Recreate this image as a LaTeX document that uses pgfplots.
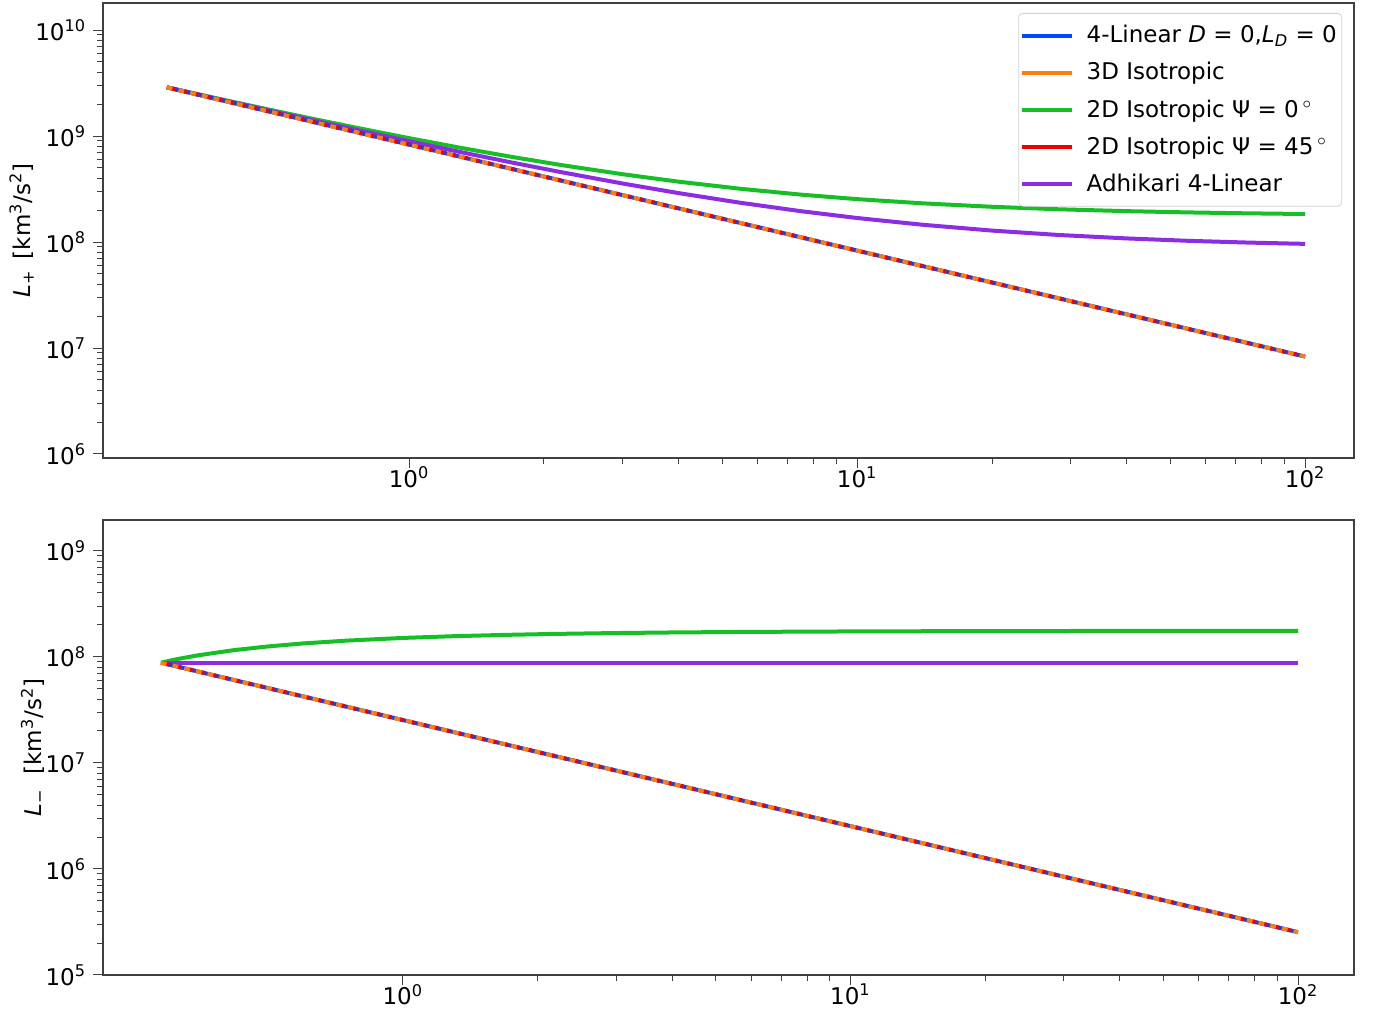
\documentclass[border=0pt]{standalone}
\usepackage{fontspec}
\setmainfont{DejaVu Sans}
\usepackage{pgfplots}
\pgfplotsset{compat=1.18}
\definecolor{cblue}{RGB}{0,72,255}
\definecolor{corange}{RGB}{255,125,10}
\definecolor{cgreen}{RGB}{24,190,40}
\definecolor{cred}{RGB}{240,0,0}
\definecolor{cpurple}{RGB}{140,45,228}
\tikzset{thk/.style={line width=2pt}}
\pgfplotsset{legend image code/.code={\draw[#1] (0pt,0pt) -- (25pt,0pt);}}
\begin{document}
\begin{tikzpicture}[x=1pt,y=1pt]
\useasboundingbox (0,0) rectangle (687,505.5);
% ---------- top panel ----------
\begin{loglogaxis}[scale only axis,
  width=625.5pt, height=227.5pt,
  at={(51.5pt,276.5pt)}, anchor=south west,
  tick align=outside, xtick pos=bottom, ytick pos=left,
  axis line style={black!75, line width=0.6pt},
  major tick length=5pt, minor tick length=3pt,
  every tick/.style={black!75, line width=0.5pt},
  tick label style={font=\fontsize{11.5}{13}\selectfont},
  xticklabel style={yshift=4pt},
  xtick={1,10,100},
  xticklabels={10\textsuperscript{0},10\textsuperscript{1},10\textsuperscript{2}},
  xmin=0.2075, xmax=128.5, ymin=9.17e5, ymax=1.8e10,
  ytick={1e6,1e7,1e8,1e9,1e10},
  yticklabels={10\textsuperscript{6},10\textsuperscript{7},10\textsuperscript{8},10\textsuperscript{9},10\textsuperscript{10}},
  ylabel={\textit{L}\textsubscript{+}\, [km\textsuperscript{3}/s\textsuperscript{2}]},
  every axis y label/.style={at={(axis description cs:-0.065,0.5)},rotate=90,anchor=center,font=\fontsize{11.5}{13}\selectfont},
  legend style={at={(0.9905,0.978)}, anchor=north east, draw=black!18, rounded corners=2pt,
    font=\fontsize{11.5}{13}\selectfont, row sep=4.3pt, inner xsep=0.5pt, inner ysep=4pt,
    cells={anchor=west}},
]
\addlegendimage{cblue,thk}
\addlegendentry{\kern4.5pt 4-Linear \textit{D} = 0,\textit{L}\textsubscript{\textit{D}} = 0}
\addlegendimage{corange,thk}
\addlegendentry{\kern4.5pt 3D Isotropic}
\addlegendimage{cgreen,thk}
\addlegendentry{\kern4.5pt 2D Isotropic Ψ = 0\,\textsuperscript{$\circ$}}
\addlegendimage{cred,thk}
\addlegendentry{\kern4.5pt 2D Isotropic Ψ = 45\,\textsuperscript{$\circ$}}
\addlegendimage{cpurple,thk}
\addlegendentry{\kern4.5pt Adhikari 4-Linear}
% green
\addplot[cgreen,thk,forget plot] coordinates {
(0.288,2.882e9)(0.35,2.403e9)(0.42,2.031e9)(0.5,1.735e9)(0.6,1.475e9)(0.75,1.215e9)
(1,9.553e8)(1.3,7.755e8)(1.7,6.344e8)(2.2,5.302e8)(3,4.358e8)(4,3.708e8)(5.5,3.177e8)
(7.5,2.799e8)(10,2.539e8)(14,2.317e8)(20,2.150e8)(28,2.038e8)(40,1.955e8)(55,1.902e8)
(75,1.864e8)(100,1.838e8)};
% purple
\addplot[cpurple,thk,forget plot] coordinates {
(0.288,2.882e9)(0.35,2.387e9)(0.42,2.004e9)(0.5,1.697e9)(0.6,1.429e9)(0.75,1.161e9)
(1,8.927e8)(1.3,7.070e8)(1.7,5.613e8)(2.2,4.538e8)(3,3.562e8)(4,2.892e8)(5.5,2.343e8)
(7.5,1.953e8)(10,1.685e8)(14,1.455e8)(20,1.282e8)(28,1.167e8)(40,1.081e8)(55,1.026e8)
(75,9.873e7)(100,9.605e7)};
% blue / orange / red (coincident)
\addplot[cblue,thk,forget plot] coordinates {(0.288,2.882e9)(1,8.3e8)(10,8.3e7)(100,8.3e6)};
\addplot[corange,thk,dash pattern=on 3pt off 3pt,forget plot] coordinates {(0.288,2.882e9)(1,8.3e8)(10,8.3e7)(100,8.3e6)};
\addplot[cred,thk,dash pattern=on 1.6pt off 4.4pt,dash phase=3pt,forget plot] coordinates {(0.288,2.882e9)(1,8.3e8)(10,8.3e7)(100,8.3e6)};
\end{loglogaxis}
% ---------- bottom panel ----------
\begin{loglogaxis}[scale only axis,
  width=625.5pt, height=227.5pt,
  at={(51.5pt,18pt)}, anchor=south west,
  tick align=outside, xtick pos=bottom, ytick pos=left,
  axis line style={black!75, line width=0.6pt},
  major tick length=5pt, minor tick length=3pt,
  every tick/.style={black!75, line width=0.5pt},
  tick label style={font=\fontsize{11.5}{13}\selectfont},
  xticklabel style={yshift=4pt},
  xtick={1,10,100},
  xticklabels={10\textsuperscript{0},10\textsuperscript{1},10\textsuperscript{2}},
  xmin=0.2138, xmax=133.4, ymin=1e5, ymax=1.95e9,
  ytick={1e5,1e6,1e7,1e8,1e9},
  yticklabels={10\textsuperscript{5},10\textsuperscript{6},10\textsuperscript{7},10\textsuperscript{8},10\textsuperscript{9}},
  ylabel={\textit{L}\textsubscript{−}\,\, [km\textsuperscript{3}/s\textsuperscript{2}]},
  every axis y label/.style={at={(axis description cs:-0.056,0.5)},rotate=90,anchor=center,font=\fontsize{11.5}{13}\selectfont},
]
\addplot[cgreen,thk] coordinates {
(0.288,8.80e7)(0.30,9.15e7)(0.31,9.43e7)(0.32,9.68e7)(0.35,1.036e8)(0.42,1.157e8)(0.5,1.253e8)
(0.6,1.338e8)(0.75,1.422e8)(1,1.507e8)(1.3,1.565e8)(1.7,1.611e8)(2.2,1.645e8)(3,1.676e8)
(4,1.697e8)(5.5,1.714e8)(7.5,1.726e8)(10,1.735e8)(14,1.742e8)(20,1.747e8)(28,1.751e8)
(40,1.754e8)(55,1.755e8)(75,1.757e8)(100,1.757e8)};
\addplot[cpurple,thk] coordinates {(0.288,8.80e7)(1,8.80e7)(10,8.80e7)(100,8.80e7)};
\addplot[cblue,thk] coordinates {(0.288,8.80e7)(1,2.534e7)(10,2.534e6)(100,2.534e5)};
\addplot[corange,thk,dash pattern=on 3pt off 3pt] coordinates {(0.288,8.80e7)(1,2.534e7)(10,2.534e6)(100,2.534e5)};
\addplot[cred,thk,dash pattern=on 1.6pt off 4.4pt,dash phase=3pt] coordinates {(0.288,8.80e7)(1,2.534e7)(10,2.534e6)(100,2.534e5)};
\end{loglogaxis}
\end{tikzpicture}
\end{document}
